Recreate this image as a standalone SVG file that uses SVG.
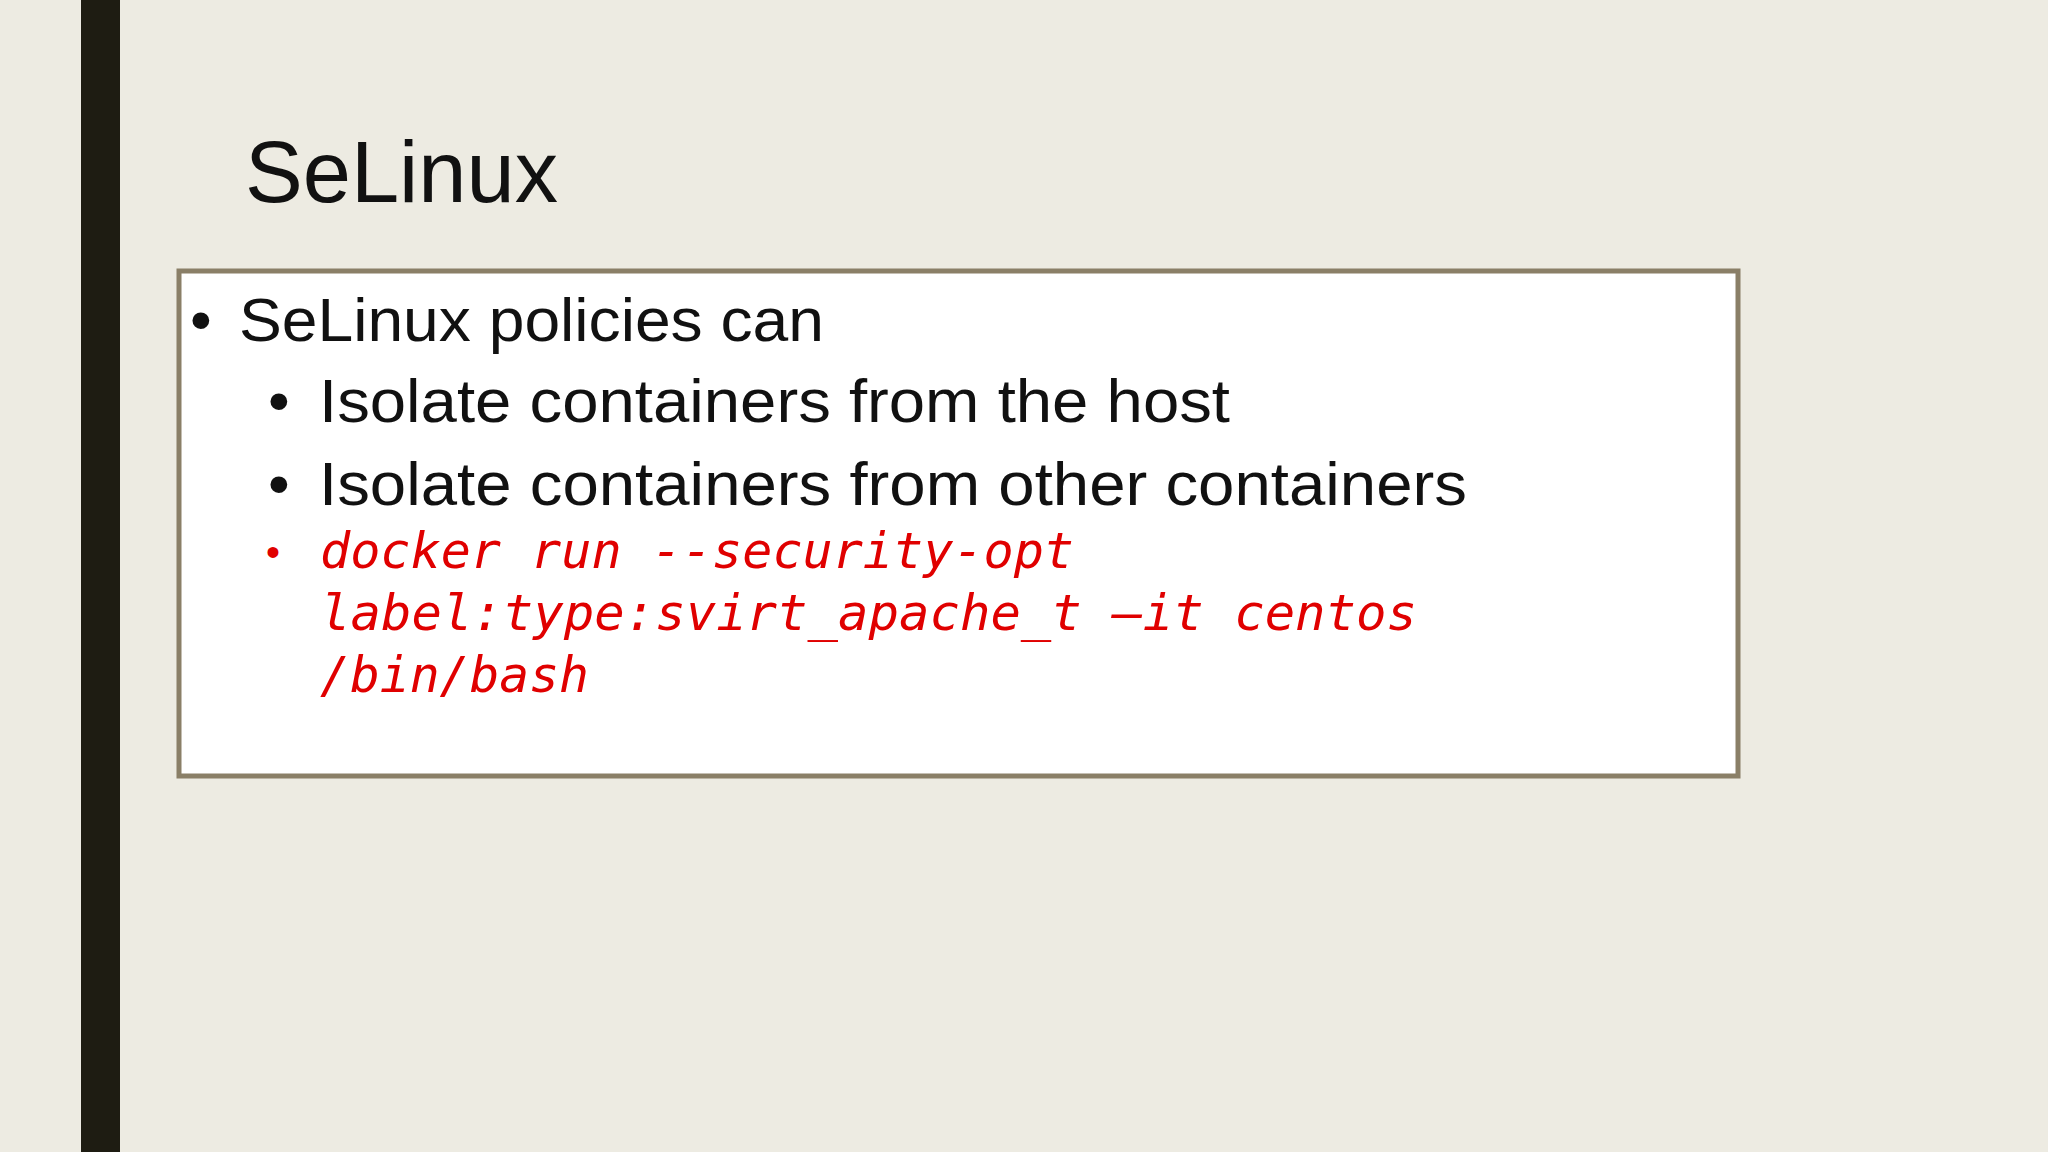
<svg xmlns="http://www.w3.org/2000/svg" width="2048" height="1152" viewBox="0 0 2048 1152">
<style>
.t{font-family:"Liberation Sans",Arial,sans-serif;fill:#111}
.c{font-family:"DejaVu Sans Mono","Liberation Mono",monospace;font-style:italic;fill:#e00000;font-size:50px}
</style>
<rect width="2048" height="1152" fill="#edebe2"/>
<rect x="81" y="0" width="39" height="1152" fill="#1e1c12"/>
<g id="title"><text class="t" x="245" y="202" font-size="88" fill="#222" textLength="313" lengthAdjust="spacingAndGlyphs">SeLinux</text></g>
<g id="box">
<rect x="179" y="271" width="1559" height="505" fill="#fff" stroke="#8a7f67" stroke-width="5"/>
<text class="t" x="190" y="341" font-size="62">•</text>
<text class="t" x="239" y="341" font-size="62" textLength="585" lengthAdjust="spacingAndGlyphs">SeLinux policies can</text>
<text class="t" x="268" y="422" font-size="62">•</text>
<text class="t" x="319" y="422" font-size="62" textLength="911" lengthAdjust="spacingAndGlyphs">Isolate containers from the host</text>
<text class="t" x="268" y="505" font-size="62">•</text>
<text class="t" x="319" y="505" font-size="62" textLength="1148" lengthAdjust="spacingAndGlyphs">Isolate containers from other containers</text>
<text x="266" y="566" font-size="40" font-family="Liberation Sans,sans-serif" fill="#e00000">•</text>
<text class="c" x="320" y="568" textLength="754" lengthAdjust="spacingAndGlyphs">docker run --security-opt</text>
<text class="c" x="320" y="630" textLength="1097" lengthAdjust="spacingAndGlyphs">label:type:svirt_apache_t –it centos</text>
<text class="c" x="320" y="692" textLength="269" lengthAdjust="spacingAndGlyphs">/bin/bash</text>
</g>
</svg>
